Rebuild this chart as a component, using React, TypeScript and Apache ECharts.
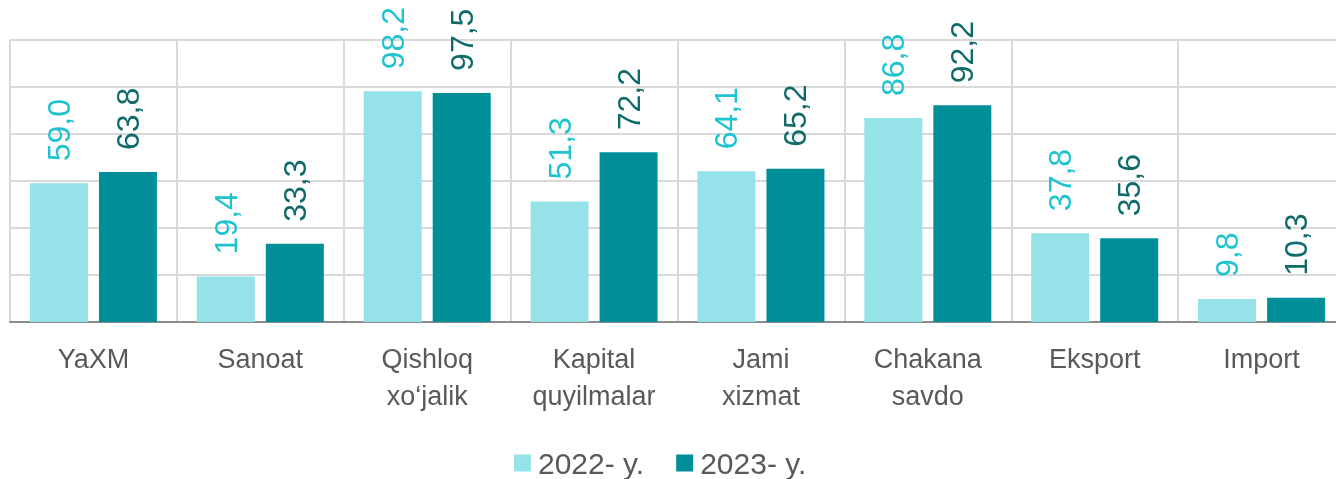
import React, { useEffect, useRef } from "react";
import * as echarts from "echarts";

const categories = [
  "YaXM",
  "Sanoat",
  "Qishloq\nxo‘jalik",
  "Kapital\nquyilmalar",
  "Jami\nxizmat",
  "Chakana\nsavdo",
  "Eksport",
  "Import",
];
const seriesNames = ["2022- y.", "2023- y."];
const values2022 = [59.0, 19.4, 98.2, 51.3, 64.1, 86.8, 37.8, 9.8];
const values2023 = [63.8, 33.3, 97.5, 72.2, 65.2, 92.2, 35.6, 10.3];

const fmt = (p: any) => Number(p.value).toFixed(1).replace(".", ",");

export default function App() {
  const ref = useRef<HTMLDivElement>(null);
  useEffect(() => {
    document.body.style.margin = "0";
    document.body.style.overflow = "hidden";
    document.documentElement.style.overflow = "hidden";
    const chart = echarts.init(ref.current!, null, { renderer: "svg" });
    chart.setOption({
      animation: false,
      textStyle: { fontFamily: "'Liberation Sans', Arial, sans-serif" },
      grid: { left: 10, right: 0, top: 40, bottom: 157, containLabel: false },
      legend: {
        left: 509,
        top: 443,
        itemWidth: 17,
        itemHeight: 17,
        itemGap: 32,
        icon: "rect",
        textStyle: {
          fontSize: 30,
          color: "#595959",
          padding: [0, 0, 0, 2],
        },
        data: seriesNames,
      },
      xAxis: {
        type: "category",
        data: categories,
        axisTick: { show: false },
        axisLine: { lineStyle: { color: "#8C8C8C", width: 2 } },
        splitLine: { show: true, lineStyle: { color: "#D9D9D9", width: 2 } },
        axisLabel: {
          interval: 0,
          margin: 18,
          fontSize: 27,
          lineHeight: 37,
          color: "#595959",
        },
      },
      yAxis: {
        type: "value",
        min: 0,
        max: 120,
        interval: 20,
        axisLabel: { show: false },
        axisLine: { show: false },
        axisTick: { show: false },
        splitLine: { lineStyle: { color: "#D9D9D9", width: 2 } },
      },
      series: [
        {
          name: seriesNames[0],
          type: "bar",
          data: values2022,
          barWidth: 58,
          barGap: "19%",
          itemStyle: { color: "#95E2E9" },
          label: {
            show: true,
            position: "top",
            rotate: 90,
            align: "left",
            verticalAlign: "middle",
            distance: 22,
            fontSize: 32,
            color: "#1EC3D1",
            formatter: fmt,
          },
        },
        {
          name: seriesNames[1],
          type: "bar",
          data: values2023,
          barWidth: 58,
          barGap: "19%",
          itemStyle: { color: "#008F98" },
          label: {
            show: true,
            position: "top",
            rotate: 90,
            align: "left",
            verticalAlign: "middle",
            distance: 22,
            fontSize: 32,
            color: "#0F6B6B",
            formatter: fmt,
          },
        },
      ],
    });
    return () => chart.dispose();
  }, []);
  return (
    <div
      ref={ref}
      style={{ position: "fixed", left: 0, top: 0, width: 1345, height: 479 }}
    />
  );
}
